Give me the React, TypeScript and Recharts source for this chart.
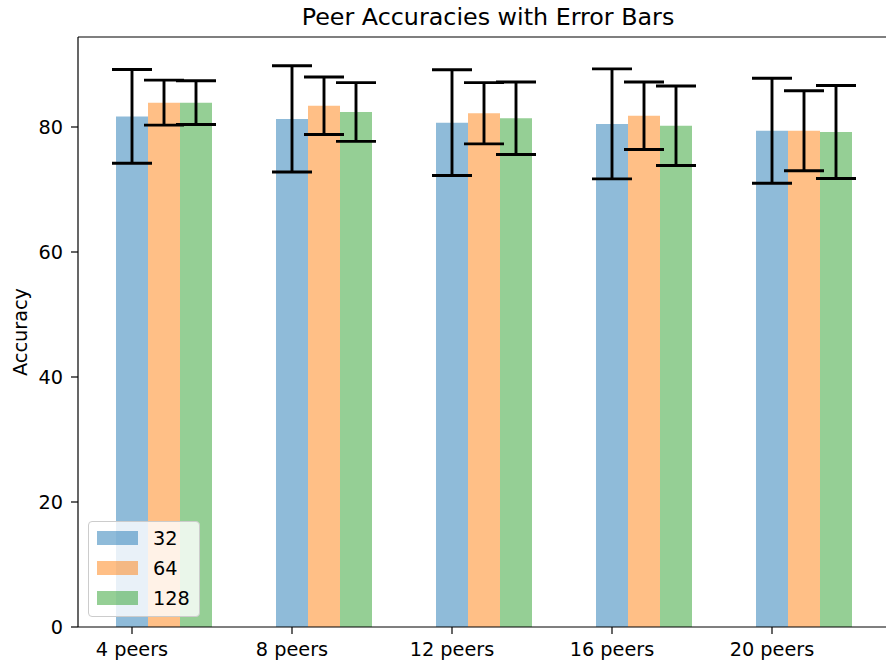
import React from "react";
import {
  BarChart,
  Bar,
  XAxis,
  YAxis,
  ErrorBar,
  Legend,
  ReferenceLine,
} from "recharts";

const categories = ["4 peers", "8 peers", "12 peers", "16 peers", "20 peers"];
const mean32 = [81.7, 81.3, 80.7, 80.5, 79.4];
const err32 = [7.5, 8.5, 8.45, 8.8, 8.4];
const mean64 = [83.9, 83.4, 82.2, 81.8, 79.4];
const err64 = [3.6, 4.6, 4.9, 5.4, 6.4];
const mean128 = [83.9, 82.4, 81.4, 80.2, 79.2];
const err128 = [3.5, 4.7, 5.8, 6.35, 7.45];
const yTicks = [0, 20, 40, 60, 80];
const yMax = 94.4;

const series = [
  { key: "m32", err: "e32", name: "32", color: "#1f77b4" },
  { key: "m64", err: "e64", name: "64", color: "#ff7f0e" },
  { key: "m128", err: "e128", name: "128", color: "#2ca02c" },
];

const data = categories.map((name, i) => ({
  name,
  m32: mean32[i],
  e32: err32[i],
  m64: mean64[i],
  e64: err64[i],
  m128: mean128[i],
  e128: err128[i],
}));

const FONT = "DejaVu Sans, sans-serif";
const FS = 19.3;
const BAR = 32;

// ticks sit under the first bar of each group, like matplotlib's x positions
const PeerTick = (props: any) => {
  const { x, y, payload } = props;
  const tx = x - BAR;
  return (
    <g>
      <line x1={tx} x2={tx} y1={y - 15} y2={y - 8} stroke="#000" strokeWidth={1.2} />
      <text x={tx} y={y} dy="0.71em" textAnchor="middle" fontSize={FS} fontFamily={FONT} fill="#000">
        {payload.value}
      </text>
    </g>
  );
};

const LegendBox = () => (
  <div
    style={{
      width: 112,
      height: 96,
      boxSizing: "border-box",
      background: "rgba(255,255,255,0.8)",
      border: "1px solid #cccccc",
      borderRadius: 4,
      padding: "1px 0 0 8px",
      fontFamily: FONT,
      fontSize: FS,
    }}
  >
    {series.map((s) => (
      <div key={s.key} style={{ display: "flex", alignItems: "center", height: 30 }}>
        <span
          style={{
            display: "inline-block",
            width: 41,
            height: 14,
            background: s.color,
            opacity: 0.5,
            marginRight: 15,
          }}
        />
        <span>{s.name}</span>
      </div>
    ))}
  </div>
);

export default function App() {
  return (
    <div style={{ position: "absolute", left: 0, top: 0, width: 888, height: 662, background: "#fff" }}>
      <div
        style={{
          position: "absolute",
          left: 88,
          width: 800,
          top: 3,
          textAlign: "center",
          fontFamily: FONT,
          fontSize: 23.8,
          lineHeight: "28px",
        }}
      >
        Peer Accuracies with Error Bars
      </div>
      <BarChart
        width={888}
        height={662}
        data={data}
        margin={{ top: 37, right: 2, left: 0, bottom: 0 }}
        barGap={0}
        barSize={BAR}
      >
        <XAxis
          dataKey="name"
          height={35}
          padding={{ left: 6, right: 2 }}
          axisLine={{ stroke: "#000", strokeWidth: 1.2 }}
          tickLine={false}
          tickSize={7}
          tickMargin={8}
          tick={<PeerTick />}
          interval={0}
        />
        <YAxis
          width={78}
          domain={[0, yMax]}
          ticks={yTicks}
          allowDataOverflow
          tickSize={7}
          tickMargin={8}
          axisLine={{ stroke: "#000", strokeWidth: 1.2 }}
          tickLine={{ stroke: "#000", strokeWidth: 1.2 }}
          tick={{ fill: "#000", fontSize: FS, fontFamily: FONT }}
          label={{
            content: (p: any) => {
              const vb = p.viewBox;
              const cy = vb.y + vb.height / 2;
              return (
                <text
                  x={20}
                  y={cy}
                  transform={`rotate(-90 20 ${cy})`}
                  textAnchor="middle"
                  dominantBaseline="central"
                  fontSize={FS}
                  fontFamily={FONT}
                  fill="#000"
                >
                  Accuracy
                </text>
              );
            },
          }}
        />
        <YAxis
          yAxisId="right"
          orientation="right"
          width={0}
          domain={[0, 1]}
          tick={false}
          tickLine={false}
          axisLine={{ stroke: "#000", strokeWidth: 1.2 }}
        />
        {/* top spine */}
        <ReferenceLine y={yMax} stroke="#000" strokeWidth={1.2} />
        {series.map((s) => (
          <Bar
            key={s.key}
            dataKey={s.key}
            name={s.name}
            fill={s.color}
            fillOpacity={0.5}
            isAnimationActive={false}
          >
            <ErrorBar
              dataKey={s.err}
              width={20}
              stroke="#000"
              strokeWidth={2.9}
              direction="y"
              isAnimationActive={false}
            />
          </Bar>
        ))}
        <Legend
          layout="vertical"
          align="center"
          verticalAlign="middle"
          content={() => <LegendBox />}
          wrapperStyle={{ left: 88, top: 521, width: 112, height: 96 }}
        />
      </BarChart>
    </div>
  );
}
